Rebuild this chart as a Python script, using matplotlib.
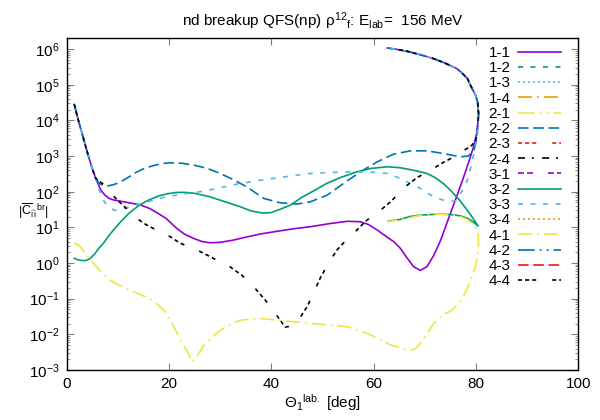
import numpy as np
import matplotlib
matplotlib.use("Agg")
import matplotlib.pyplot as plt
from matplotlib.ticker import LogLocator, FixedLocator, NullFormatter, FuncFormatter

plt.rcParams['font.family'] = ['Liberation Sans', 'DejaVu Sans']
plt.rcParams['mathtext.fontset'] = 'custom'
plt.rcParams['mathtext.rm'] = 'Liberation Sans'
plt.rcParams['mathtext.it'] = 'Liberation Sans'
plt.rcParams['mathtext.default'] = 'regular'
plt.rcParams['lines.scale_dashes'] = False

# --- datos ---
etiquetas = ['1-1', '1-2', '1-3', '1-4', '2-1', '2-2', '2-3', '2-4',
             '3-1', '3-2', '3-3', '3-4', '4-1', '4-2', '4-3', '4-4']

# rama superior comun (theta1 vuelve de ~80 a ~62)
rama_x = [80.5, 80.3, 79.9, 78.9, 78.3, 77.3, 76.3, 74.0, 71.7, 69.0, 66.5, 64.5, 62.7]
rama_y = [1.5e4, 3.3e4, 5.1e4, 9.7e4, 1.5e5, 2.1e5, 2.8e5, 4.0e5, 5.4e5, 7.0e5, 8.7e5, 9.8e5, 1.07e6]

# inicio comun de las diagonales
ini_x = [1.5, 2.3, 3.1, 3.8, 4.4, 5.0, 5.7]
ini_y = [2.8e4, 1.0e4, 3900, 1700, 860, 450, 236]

c11_x = [6.7, 7.5, 8.3, 9.3, 10.3, 11.5, 12.9, 14.5, 16.2, 17.8, 19.4, 21.5, 23.0,
         24.8, 26.5, 28.0, 30.0, 32.6, 35.0, 37.8, 41.7, 45.0, 47.6, 51.0, 54.8,
         57.4, 59.0, 60.7, 62.5, 64.0, 65.2, 66.5, 67.8, 69.1, 70.4, 71.7, 73.1,
         74.0, 75.0, 76.0, 76.9, 77.9, 78.9, 79.6, 80.1, 80.4]
c11_y = [110, 80, 65, 58, 55, 51, 47, 42, 34, 25, 18, 9.4, 6.5,
         4.9, 4.0, 3.7, 3.8, 4.4, 5.3, 6.5, 8.0, 9.4, 10.4, 12.5, 14.8,
         14.4, 12, 8.4, 5.5, 3.9, 2.6, 1.4, 0.79, 0.62, 0.79, 1.6, 4.4,
         10, 25, 60, 137, 350, 950, 2000, 4300, 1e4]

c22_x = [6.4, 7.2, 8.0, 9.0, 10.3, 12.0, 13.6, 15.2, 16.8, 18.5, 20.2, 22.5, 24.8,
         27.5, 30.0, 32.5, 35.2, 38.5, 41.7, 45.0, 47.6, 50.9, 54.1, 57.4, 60.7,
         63.9, 67.2, 70.4, 73.6, 76.9, 78.5, 79.6, 80.2]
c22_y = [170, 150, 146, 155, 180, 250, 350, 450, 530, 610, 650, 630, 560,
         450, 325, 220, 137, 65, 49, 45, 52, 80, 170, 360, 690,
         1130, 1400, 1400, 1180, 950, 1000, 1470, 3400]

c33_x = [6.4, 6.9, 7.4, 8.3, 9.3, 10.3, 11.3, 13.0, 14.9, 17.0, 19.4, 22.5, 26.1,
         29.5, 33.3, 37.8, 41.7, 44.5, 47.6, 52.0, 57.4, 60.0, 62.6, 65.2, 67.2,
         69.1, 71.7, 73.1, 74.5, 76.0, 77.2, 78.3, 79.0, 79.6, 80.0, 80.3]
c33_y = [110, 70, 52, 38, 30, 31, 34, 40, 47, 58, 72, 85, 100,
         125, 163, 210, 250, 285, 325, 350, 360, 350, 325, 236, 170,
         123, 72, 61, 54, 55, 100, 210, 500, 1180, 2500, 5300]

c44_x = [7.0, 8.2, 9.3, 10.3, 11.3, 12.7, 14.2, 15.5, 16.9, 18.5, 20.2, 22.2, 24.0,
         26.1, 28.7, 30.5, 31.9, 34.2, 36.5, 38.8, 41.0, 42.7, 43.8, 45.3, 47.0,
         48.3, 49.6, 51.2, 52.8, 54.5, 56.1, 57.5, 58.7, 61.3, 63.3, 65.2, 66.5,
         68.5, 71.1, 73.5, 75.7, 77.5, 79.2, 80.0, 80.3, 80.4]
c44_y = [170, 110, 72, 52, 38, 25, 16, 12, 9.4, 7.2, 5.5, 3.6, 2.8,
         2.1, 1.35, 1.0, 0.79, 0.46, 0.22, 0.092, 0.035, 0.016, 0.017, 0.025, 0.06,
         0.15, 0.39, 1.0, 2.3, 4.2, 6.8, 11, 16, 30, 52, 99, 150,
         250, 400, 650, 950, 1400, 2000, 3000, 4300, 1e4]

c32_x = [1.5, 2.5, 3.6, 4.5, 5.5, 6.3, 7.2, 8.5, 10.3, 12.2, 14.2, 16.0, 18.1,
         19.8, 21.4, 23.0, 25.0, 28.0, 31.0, 33.9, 36.0, 38.4, 40.0, 41.7, 43.7,
         46.0, 48.5, 50.8, 53.5, 56.7, 59.5, 62.6, 65.2, 67.8, 70.4, 72.0, 73.6,
         75.0, 76.7, 78.3, 79.4, 80.4, 79.5, 78.5, 77.0, 75.0, 72.5, 69.1, 67.0,
         65.2, 62.9]
c32_y = [1.35, 1.2, 1.16, 1.3, 1.8, 2.6, 3.6, 6.5, 13, 25, 42, 58, 77,
         88, 95, 96, 90, 72, 52, 38, 29, 25, 26, 32, 42,
         70, 110, 170, 250, 360, 450, 500, 470, 400, 325, 250, 170,
         110, 60, 30, 18, 10.9, 14, 17.5, 21, 23, 23.5, 22, 20,
         16.7, 15]

c41_x = [1.5, 2.3, 3.2, 4.2, 5.2, 6.5, 8.5, 10.5, 13.0, 16.3, 18.0, 19.5, 21.0,
         22.2, 23.5, 24.5, 25.5, 26.7, 28.3, 30.0, 32.0, 33.9, 37.8, 42.4, 48.3,
         54.8, 58.7, 61.0, 63.3, 65.2, 67.2, 68.2, 69.1, 70.4, 71.7, 73.5, 75.0,
         76.0, 77.2, 78.2, 79.1, 79.8, 80.3, 80.5, 80.4, 79.8, 78.5, 77.0, 75.0,
         72.0, 69.1, 65.2, 62.6]
c41_y = [3.7, 3.2, 2.3, 1.5, 1.0, 0.62, 0.33, 0.23, 0.16, 0.1, 0.065, 0.039, 0.016,
         0.007, 0.0035, 0.0017, 0.0025, 0.0046, 0.008, 0.013, 0.019, 0.025, 0.028, 0.024, 0.02,
         0.0164, 0.0107, 0.0075, 0.005, 0.0042, 0.0036, 0.004, 0.0056, 0.01, 0.02, 0.035, 0.045,
         0.06, 0.092, 0.18, 0.38, 0.75, 1.6, 3.2, 6.5, 10.9, 16, 20, 23,
         23.5, 21.5, 16.5, 14.4]

# curvas visibles (las demas son nulas en escala log)
curvas = {
    '1-1': (ini_x + c11_x + rama_x, ini_y + c11_y + rama_y),
    '2-2': (ini_x + c22_x + rama_x, ini_y + c22_y + rama_y),
    '3-2': (c32_x, c32_y),
    '3-3': (ini_x + c33_x + rama_x, ini_y + c33_y + rama_y),
    '4-1': (c41_x, c41_y),
    '4-4': (ini_x + c44_x + rama_x, ini_y + c44_y + rama_y),
}

# colores y tipos de linea estilo gnuplot
colores = ['#9400d3', '#009e73', '#56b4e9', '#e69f00',
           '#f0e442', '#0072b2', '#e51e10', '#000000']
trazos = ['-',
          (0, (3.6, 5.4)),
          (0, (1.4, 2.2)),
          (0, (10, 3.6, 1.4, 3.6)),
          (0, (12, 3.6, 1.4, 3.6, 1.4, 3.6)),
          (0, (7.6, 3.4)),
          (0, (2.9, 2.2, 2.9, 2.2, 2.9, 11.5)),
          (0, (5, 5, 1.4, 6)),
          (0, (4.3, 2.2, 4.3, 10.8))]

fig = plt.figure(figsize=(6, 4.2), dpi=100)
ax = fig.add_axes([0.111, 0.119, 0.853, 0.7905])

for i, lab in enumerate(etiquetas):
    col = colores[i % 8]
    ls = trazos[i % 9]
    if lab in curvas:
        xs, ys = curvas[lab]
        ax.plot(xs, ys, color=col, linestyle=ls, lw=1.2, label=lab)
    else:
        ax.plot([], [], color=col, linestyle=ls, lw=1.2, label=lab)

ax.set_yscale('log')
ax.set_xlim(0, 100)
ax.set_ylim(1e-3, 2.04e6)
ax.xaxis.set_major_locator(FixedLocator([0, 20, 40, 60, 80, 100]))
ax.yaxis.set_major_locator(LogLocator(base=10, numticks=20))
ax.yaxis.set_minor_locator(LogLocator(base=10, subs=np.arange(2, 10), numticks=20))
ax.yaxis.set_minor_formatter(NullFormatter())
ax.yaxis.set_major_formatter(FuncFormatter(lambda v, p: r'$10^{%d}$' % round(np.log10(v))))

ax.tick_params(which='both', direction='in', top=True, right=True, labelsize=11, color='#808080')
ax.tick_params(which='major', length=5, width=0.8, pad=5)
ax.tick_params(which='minor', length=2.5, width=0.6)
for s in ax.spines.values():
    s.set_linewidth(1.0)

ax.set_title(r'nd breakup QFS(np) $\rho^{12}{}_{f}$: E$_{lab}$=  156 MeV', fontsize=11, pad=9)
ax.set_xlabel(r'$\Theta_{1}{}^{lab.}$ [deg]', fontsize=11, labelpad=1)
fig.text(0.055, 0.497, r"$|\overline{C}_{i'i}{}^{br}|$", fontsize=9, ha='center', va='center')

ax.legend(loc='upper right', bbox_to_anchor=(0.972, 0.985), frameon=False, markerfirst=False,
          fontsize=11, handlelength=2.8, handletextpad=0.5, labelspacing=0.08,
          borderaxespad=0, borderpad=0.2)

fig.savefig('out.png', dpi=100)
